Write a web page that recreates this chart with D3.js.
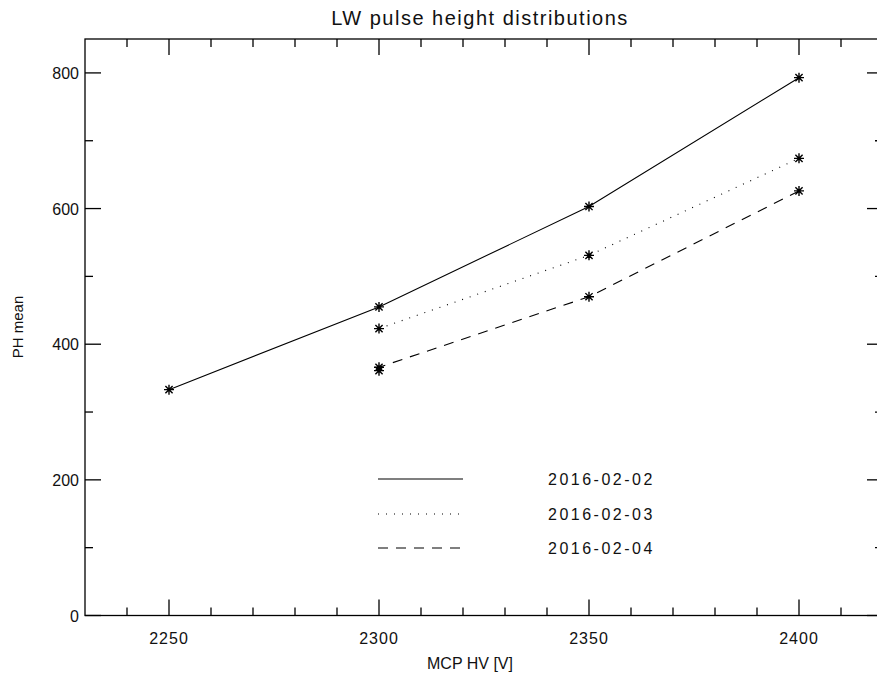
<!DOCTYPE html>
<html><head><meta charset="utf-8">
<script src="https://cdn.jsdelivr.net/npm/d3@7"></script>
<style>
html,body{margin:0;padding:0;background:#fff;}
text{font-family:"Liberation Sans","DejaVu Sans",sans-serif;fill:#111;}
</style></head>
<body><svg id="c" width="877" height="679"></svg>
<script>
const title = "LW pulse height distributions";
const xLabel = "MCP HV [V]";
const yLabel = "PH mean";
const seriesNames = ["2016-02-02", "2016-02-03", "2016-02-04"];
const seriesDash = ["", "1,7", "10,8"];
const hv1 = [2250, 2300, 2350, 2400];
const ph1 = [333, 455, 603, 793];
const hv2 = [2300, 2350, 2400];
const ph2 = [423, 531, 674];
const hv3 = [2300, 2300, 2350, 2400];
const ph3 = [361, 366, 470, 626];
const xMajor = [2250, 2300, 2350, 2400];
const yMajor = [0, 200, 400, 600, 800];

const svg = d3.select("#c");
const L = 85, T = 39, R = 883, B = 615.5;
const x = d3.scaleLinear().domain([2230, 2420]).range([L, R]);
const y = d3.scaleLinear().domain([0, 850]).range([B, T]);

const g = svg.append("g");
g.append("rect").attr("x", L).attr("y", T).attr("width", R - L).attr("height", B - T)
  .attr("fill", "none").attr("stroke", "#000").attr("stroke-width", 1.3);

const xMinor = d3.range(2240, 2420, 10).filter(v => !xMajor.includes(v));
const yMinor = d3.range(100, 850, 200);
const majLen = 16, minLen = 8;
xMajor.concat(xMinor).forEach(v => {
  const len = xMajor.includes(v) ? majLen : minLen;
  g.append("line").attr("x1", x(v)).attr("x2", x(v)).attr("y1", B).attr("y2", B - len).attr("stroke", "#000").attr("stroke-width", 1.3);
  g.append("line").attr("x1", x(v)).attr("x2", x(v)).attr("y1", T).attr("y2", T + len).attr("stroke", "#000").attr("stroke-width", 1.3);
});
yMajor.concat(yMinor).forEach(v => {
  const len = yMajor.includes(v) ? majLen : minLen;
  g.append("line").attr("y1", y(v)).attr("y2", y(v)).attr("x1", L).attr("x2", L + len).attr("stroke", "#000").attr("stroke-width", 1.3);
  g.append("line").attr("y1", y(v)).attr("y2", y(v)).attr("x1", R).attr("x2", R - len).attr("stroke", "#000").attr("stroke-width", 1.3);
});
xMajor.forEach(v => {
  g.append("text").attr("x", x(v)).attr("y", B + 28).attr("text-anchor", "middle")
    .attr("font-size", 16).attr("letter-spacing", 1).text(v);
});
yMajor.forEach(v => {
  g.append("text").attr("x", L - 6).attr("y", y(v) + 6).attr("text-anchor", "end")
    .attr("font-size", 16).text(v);
});
svg.append("text").attr("x", 480).attr("y", 25).attr("text-anchor", "middle").attr("font-size", 20)
  .attr("letter-spacing", 1.5).text(title);
svg.append("text").attr("x", 470).attr("y", 669).attr("text-anchor", "middle").attr("font-size", 16).text(xLabel);
svg.append("text").attr("transform", "translate(23,327) rotate(-90)").attr("text-anchor", "middle").attr("font-size", 15).text(yLabel);

const series = [[hv1, ph1], [hv2, ph2], [hv3, ph3]];
const line = d3.line().x(d => x(d[0])).y(d => y(d[1]));
function star(sel, cx, cy) {
  const r = 5, d = 3.6;
  const p = `M${cx - r},${cy}L${cx + r},${cy}M${cx},${cy - r}L${cx},${cy + r}M${cx - d},${cy - d}L${cx + d},${cy + d}M${cx - d},${cy + d}L${cx + d},${cy - d}`;
  sel.append("path").attr("d", p).attr("stroke", "#000").attr("stroke-width", 1.4).attr("fill", "none");
}
series.forEach((s, i) => {
  const pts = s[0].map((v, k) => [v, s[1][k]]);
  g.append("path").attr("d", line(pts)).attr("fill", "none").attr("stroke", "#000")
    .attr("stroke-width", 1.1).attr("stroke-dasharray", seriesDash[i] || null);
  pts.forEach(p => star(g, x(p[0]), y(p[1])));
});
const legY = [479, 514, 548];
seriesNames.forEach((n, i) => {
  g.append("line").attr("x1", 378).attr("x2", 463).attr("y1", legY[i]).attr("y2", legY[i])
    .attr("stroke", "#000").attr("stroke-width", 1.2).attr("stroke-dasharray", seriesDash[i] || null);
  g.append("text").attr("x", 548).attr("y", legY[i] + 6).attr("font-size", 16)
    .attr("letter-spacing", 2.5).text(n);
});
</script></body></html>
